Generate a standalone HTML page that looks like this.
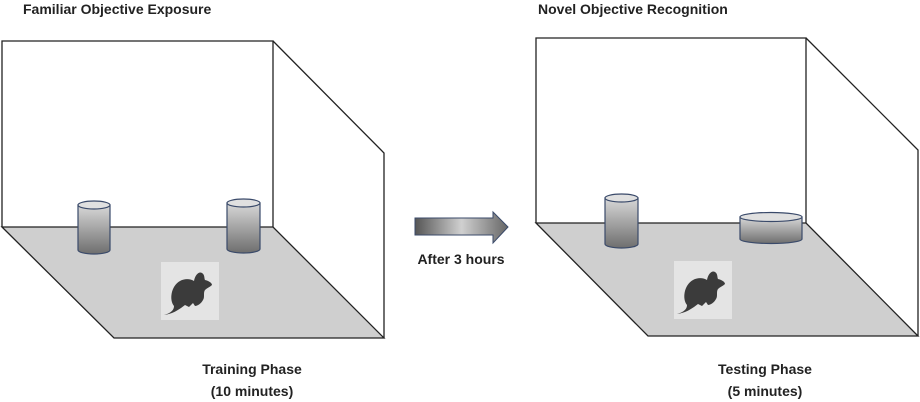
<!DOCTYPE html>
<html><head><meta charset="utf-8"><style>body{margin:0;background:#fff}svg{display:block}</style></head><body>
<svg width="920" height="402" xmlns="http://www.w3.org/2000/svg" font-family="Liberation Sans, sans-serif" font-weight="bold">
<defs>
<linearGradient id="cy" x1="0" y1="0" x2="0" y2="1"><stop offset="0" stop-color="#d8d8d8"/><stop offset="1" stop-color="#6e6e6e"/></linearGradient>
<linearGradient id="ar" x1="0" y1="0" x2="1" y2="0"><stop offset="0" stop-color="#555"/><stop offset="0.5" stop-color="#d0d0d0"/><stop offset="1" stop-color="#666"/></linearGradient>
<g id="mouse"><rect x="0" y="0" width="58" height="58" fill="#e4e4e4"/>
<path d="M13,44 C8,38 10,24 19,19 C24,16 30,17 33,19 C34,13 38,9 41,11 C44,13 43,16 44,18 C48,19 51,21 51,23 C49,25 46,26 44,28 C42,31 44,35 42,38 C40,42 36,44 34,44 L32,41 L28,45 L24,43 L20,46 C14,50 10,52 3,53 C10,51 13,48 13,44Z" fill="#3b3b3b"/></g>
</defs>
<text x="23" y="14" font-size="14" fill="#222">Familiar  Objective Exposure</text>
<polygon points="2,227 273,227 384,338 114,338" fill="#cfcfcf" stroke="#222" stroke-width="1.3"/>
<polyline points="2,227 2,41 273,41 273,227" fill="none" stroke="#222" stroke-width="1.3"/>
<polyline points="273,41 384,153 384,338" fill="none" stroke="#222" stroke-width="1.3"/>
<g stroke="#3a4a6a" stroke-width="1.2">
<path d="M78,205 L78,250 A16,4 0 0 0 110,250 L110,205Z" fill="url(#cy)"/><ellipse cx="94" cy="205" rx="16" ry="4" fill="#e0e0e0"/>
<path d="M227,203 L227,249 A16.5,4 0 0 0 260,249 L260,203Z" fill="url(#cy)"/><ellipse cx="243.5" cy="203" rx="16.5" ry="4" fill="#e0e0e0"/>
</g>
<use href="#mouse" x="161" y="262"/>
<text x="252" y="374" font-size="14" fill="#222" text-anchor="middle">Training Phase</text>
<text x="252" y="396" font-size="14" fill="#222" text-anchor="middle">(10 minutes)</text>

<polygon points="415,218 493,218 493,212 508,227 493,243 493,235 415,235" fill="url(#ar)" stroke="#3a4a6a" stroke-width="1"/>
<text x="461" y="264" font-size="14" fill="#222" text-anchor="middle">After 3 hours</text>

<text x="538" y="14" font-size="14" fill="#222">Novel  Objective Recognition</text>
<polygon points="536,223 806,223 918,336 648,336" fill="#cfcfcf" stroke="#222" stroke-width="1.3"/>
<polyline points="536,223 536,38 806,38 806,223" fill="none" stroke="#222" stroke-width="1.3"/>
<polyline points="806,38 918,150 918,336" fill="none" stroke="#222" stroke-width="1.3"/>
<g stroke="#3a4a6a" stroke-width="1.2">
<path d="M605,198 L605,244 A16.5,4 0 0 0 638,244 L638,198Z" fill="url(#cy)"/><ellipse cx="621.5" cy="198" rx="16.5" ry="4" fill="#e0e0e0"/>
<path d="M740,217 L740,239 A31,4.5 0 0 0 802,239 L802,217Z" fill="url(#cy)"/><ellipse cx="771" cy="217" rx="31" ry="4.5" fill="#e0e0e0"/>
</g>
<use href="#mouse" x="674" y="261"/>
<text x="765" y="374" font-size="14" fill="#222" text-anchor="middle">Testing Phase</text>
<text x="765" y="396" font-size="14" fill="#222" text-anchor="middle">(5 minutes)</text>
</svg>
</body></html>
